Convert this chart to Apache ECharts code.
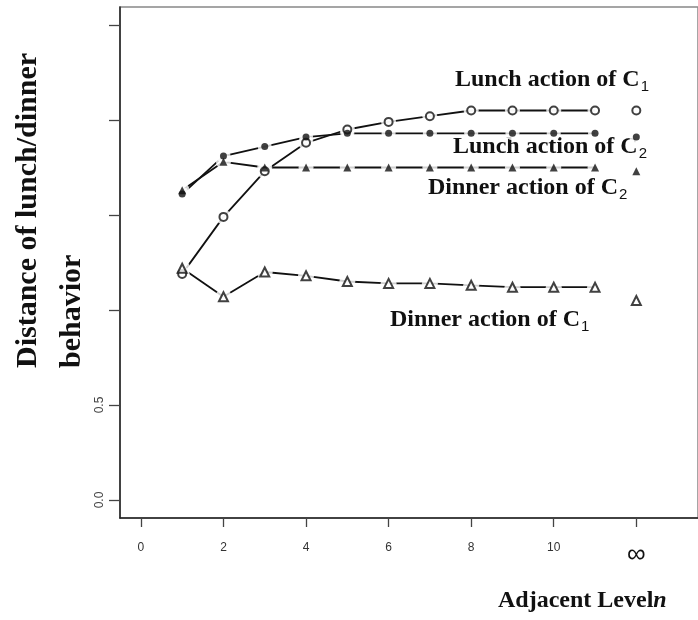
<!DOCTYPE html>
<html>
<head>
<meta charset="utf-8">
<script src="https://cdn.jsdelivr.net/npm/echarts@6/dist/echarts.min.js"></script>
<style>html,body{margin:0;padding:0;background:#fff}#c{width:698px;height:620px}</style>
</head>
<body>
<div id="c"></div>
<script>
// ---- data ----
const levels = [1, 2, 3, 4, 5, 6, 7, 8, 9, 10, 11];
const infLevel = 12; // plotted position of the "∞" level
const lunchC1  = [1.19, 1.49, 1.73, 1.88, 1.95, 1.99, 2.02, 2.05, 2.05, 2.05, 2.05];
const lunchC2  = [1.61, 1.81, 1.86, 1.91, 1.93, 1.93, 1.93, 1.93, 1.93, 1.93, 1.93];
const dinnerC2 = [1.63, 1.78, 1.75, 1.75, 1.75, 1.75, 1.75, 1.75, 1.75, 1.75, 1.75];
const dinnerC1 = [1.22, 1.07, 1.20, 1.18, 1.15, 1.14, 1.14, 1.13, 1.12, 1.12, 1.12];
const infValues = { lunchC1: 2.05, lunchC2: 1.91, dinnerC2: 1.73, dinnerC1: 1.05 };
const xTickValues = [0, 2, 4, 6, 8, 10, 12];
const yTickValues = [0, 0.5, 1, 1.5, 2, 2.5];
const yLabelValues = [0, 0.5];

const chart = echarts.init(document.getElementById('c'), null, { renderer: 'canvas' });

const groups = [
  { key: 'lunchC1',  vals: lunchC1,  symbol: 'circle',   filled: false, size: 8 },
  { key: 'lunchC2',  vals: lunchC2,  symbol: 'circle',   filled: true,  size: 7 },
  { key: 'dinnerC2', vals: dinnerC2, symbol: 'triangle', filled: true,  size: 8 },
  { key: 'dinnerC1', vals: dinnerC1, symbol: 'triangle', filled: false, size: 9 }
];

const series = [];
groups.forEach(g => {
  const pts = levels.map((x, i) => [x, g.vals[i]]);
  const all = pts.concat([[infLevel, infValues[g.key]]]);
  series.push({
    type: 'line', data: pts, symbol: 'none', z: 1, silent: true,
    lineStyle: { color: '#111', width: 1.8 }
  });
  series.push({
    type: 'scatter', data: all, symbol: 'circle', symbolSize: g.size + 7, z: 2, silent: true,
    itemStyle: { color: '#fff' }
  });
  series.push({
    type: 'scatter', data: all, z: 3, silent: true,
    symbol: g.filled ? g.symbol : 'empty' + g.symbol.charAt(0).toUpperCase() + g.symbol.slice(1),
    symbolSize: g.size,
    itemStyle: g.filled ? { color: '#111' } : { color: '#111', borderColor: '#111', borderWidth: 1.6 }
  });
});

const serif = '"Liberation Serif", "Times New Roman", serif';
const sans = '"Liberation Sans", Arial, sans-serif';
function labelText(main, sub) {
  return {
    text: '{m|' + main + '}{s|' + sub + '}',
    rich: {
      m: { fontFamily: serif, fontWeight: 'bold', fontSize: 24, fill: '#111' },
      s: { fontFamily: sans, fontSize: 15, fill: '#111', padding: [14, 0, 0, 1] }
    },
    verticalAlign: 'middle', align: 'left'
  };
}

chart.setOption({
  animation: false,
  backgroundColor: '#fff',
  grid: { left: 120, top: 7, right: -3, bottom: 102, show: true, borderColor: '#888', borderWidth: 1.5, backgroundColor: 'transparent' },
  xAxis: {
    type: 'value', min: -0.506, max: 13.494,
    splitLine: { show: false },
    axisLine: { show: true, onZero: false, lineStyle: { color: '#222', width: 1.5 } },
    axisTick: { show: true, customValues: xTickValues, length: 9, lineStyle: { color: '#444', width: 1.3 } },
    axisLabel: {
      customValues: xTickValues, margin: 24, color: '#333', fontFamily: sans, fontSize: 12,
      formatter: v => v === infLevel ? '{inf|∞}' : String(v),
      rich: { inf: { fontSize: 26, fontFamily: sans, color: '#111' } }
    }
  },
  yAxis: {
    type: 'value', min: -0.0947, max: 2.5947,
    splitLine: { show: false },
    axisLine: { show: true, onZero: false, lineStyle: { color: '#222', width: 1.5 } },
    axisTick: { show: true, customValues: yTickValues, length: 11, lineStyle: { color: '#444', width: 1.3 } },
    axisLabel: {
      customValues: yLabelValues, rotate: 90, margin: 14, color: '#444', fontFamily: sans, fontSize: 12,
      formatter: v => v.toFixed(1)
    }
  },
  series: series,
  graphic: [
    { type: 'text', x: 455, y: 80, silent: true, style: labelText('Lunch action of C', '1') },
    { type: 'text', x: 453, y: 147, silent: true, style: labelText('Lunch action of C', '2') },
    { type: 'text', x: 428, y: 188, silent: true, style: labelText('Dinner action of C', '2') },
    { type: 'text', x: 390, y: 320, silent: true, style: labelText('Dinner action of C', '1') },
    { type: 'text', x: 498, y: 601, silent: true, style: {
        text: '{m|Adjacent Level}{n|n}',
        rich: {
          m: { fontFamily: serif, fontWeight: 'bold', fontSize: 24, fill: '#111' },
          n: { fontFamily: serif, fontWeight: 'bold', fontStyle: 'italic', fontSize: 24, fill: '#111' }
        },
        verticalAlign: 'middle', align: 'left'
    } },
    { type: 'text', x: 28, y: 368, rotation: Math.PI / 2, silent: true, style: {
        text: 'Distance of lunch/dinner', fontFamily: serif, fontWeight: 'bold', fontSize: 30, fill: '#111',
        align: 'left', verticalAlign: 'middle'
    } },
    { type: 'text', x: 72, y: 368, rotation: Math.PI / 2, silent: true, style: {
        text: 'behavior', fontFamily: serif, fontWeight: 'bold', fontSize: 30, fill: '#111',
        align: 'left', verticalAlign: 'middle'
    } }
  ]
});
</script>
</body>
</html>
